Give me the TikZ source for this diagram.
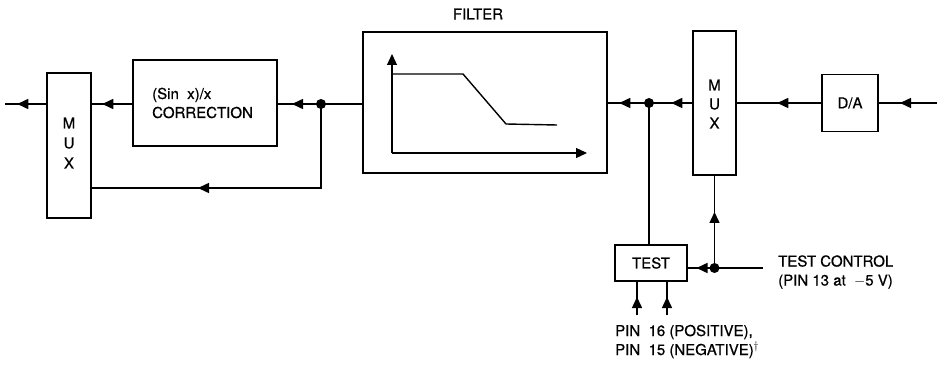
\documentclass[tikz,border=0pt]{standalone}
\usepackage{fontspec}
\setmainfont[FakeBold=0.7]{TeX Gyre Heros}
\usetikzlibrary{arrows.meta,decorations.markings}
\tikzset{
  sig/.style={line width=1.5pt},
  blk/.style={draw,line width=1.5pt,inner sep=0pt},
  lbl/.style={font=\fontsize{15}{19}\selectfont,inner sep=0pt},
  junc/.style={circle,fill=black,minimum size=10pt,inner sep=0pt},
  tipat/.style={postaction={decorate},decoration={markings,mark=at position #1 with {\arrow{Triangle[length=11pt,width=10pt]}}}},
  tiptwo/.style 2 args={postaction={decorate},decoration={markings,mark=at position #1 with {\arrow{Triangle[length=11pt,width=10pt]}},mark=at position #2 with {\arrow{Triangle[length=11pt,width=10pt]}}}}
}
\begin{document}
\begin{tikzpicture}[x=1pt,y=-1pt]
\useasboundingbox (0,0) rectangle (939,371);
% blocks
\node[blk,minimum width=44pt,minimum height=145pt] (mux1) at (69,145.5) {};
\node[lbl] at (69,123) {M};
\node[lbl] at (69,143) {U};
\node[lbl] at (69,163) {X};
\node[blk,minimum width=144pt,minimum height=86pt] (corr) at (205,103) {};
\node[lbl,align=left,anchor=west] at (152,103) {(Sin\ \ x)/x\\CORRECTION};
\node[blk,minimum width=244pt,minimum height=141pt] (filt) at (485,102.5) {};
\node[lbl] (ftitle) at (478,14) {FILTER};
\node[blk,minimum width=43pt,minimum height=144pt] (mux2) at (714.5,103) {};
\node[lbl] at (714.5,85) {M};
\node[lbl] at (714.5,104) {U};
\node[lbl] at (714.5,123) {X};
\node[blk,minimum width=56pt,minimum height=57pt] (da) at (850,103) {};
\node[lbl] at (850,103) {D/A};
\node[blk,minimum width=72pt,minimum height=36pt] (test) at (651,263) {};
\node[lbl] at (651,263) {TEST};
% filter response
\coordinate (ax0) at (392,153);
\coordinate (axy) at (392,54);
\coordinate (axx) at (587,153);
\draw[line width=1.2pt,-{Triangle[length=11pt,width=10pt]}] (ax0) -- (axy);
\draw[line width=1.2pt,-{Triangle[length=11pt,width=10pt]}] (ax0) -- (axx);
\draw[line width=1.4pt] (392,74) -- (463,74) -- (506,124) -- (557,125);
% junctions
\node[junc] (j1) at (321,104) {};
\node[junc] (j2) at (649,103) {};
\node[junc] (j3) at (714.5,268) {};
% coordinates
\coordinate (outL) at (5,104);
\coordinate (inR) at (937,103);
\coordinate (fb) at (321,188);
\coordinate (tc) at (763,268);
\coordinate (p16) at (637,315);
\coordinate (p15) at (667,315);
% connectors
\draw[sig,tipat=29pt] (mux1.west |- outL) -- (outL);
\draw[sig,tipat=30pt] (corr.west |- j1) -- (mux1.east |- j1);
\draw[sig,tipat=29pt] (j1.center) -- (corr.east |- j1);
\draw[sig] (filt.west |- j1) -- (j1.center);
\draw[sig,tipat=207pt] (j1.center) -- (fb) -- (mux1.east |- fb);
\draw[sig,tiptwo={21pt}{73pt}] (mux2.west |- j2) -- (filt.east |- j2);
\draw[sig] (j2.center) -- (test.north -| j2);
\draw[sig,tipat=44pt] (da.west) -- (mux2.east |- da.west);
\draw[sig,tipat=37pt] (inR) -- (da.east |- inR);
\draw[sig] (tc) -- (j3.center);
\draw[sig,tipat=18pt] (j3.center) -- (test.east |- j3);
\draw[sig,tipat=56pt] (j3.center) -- (mux2.south);
\draw[sig,tipat=18pt] (p16) -- (test.south -| p16);
\draw[sig,tipat=18pt] (p15) -- (test.south -| p15);
% labels
\node[lbl,align=left,anchor=west] at (778,272) {TEST CONTROL\\(PIN 13 at\ \ $-$5 V)};
\node[lbl,align=left,anchor=west] at (615,341.5) {PIN\ \ 16 (POSITIVE),\\PIN\ \ 15 (NEGATIVE)$^\dagger$};
\end{tikzpicture}
\end{document}
